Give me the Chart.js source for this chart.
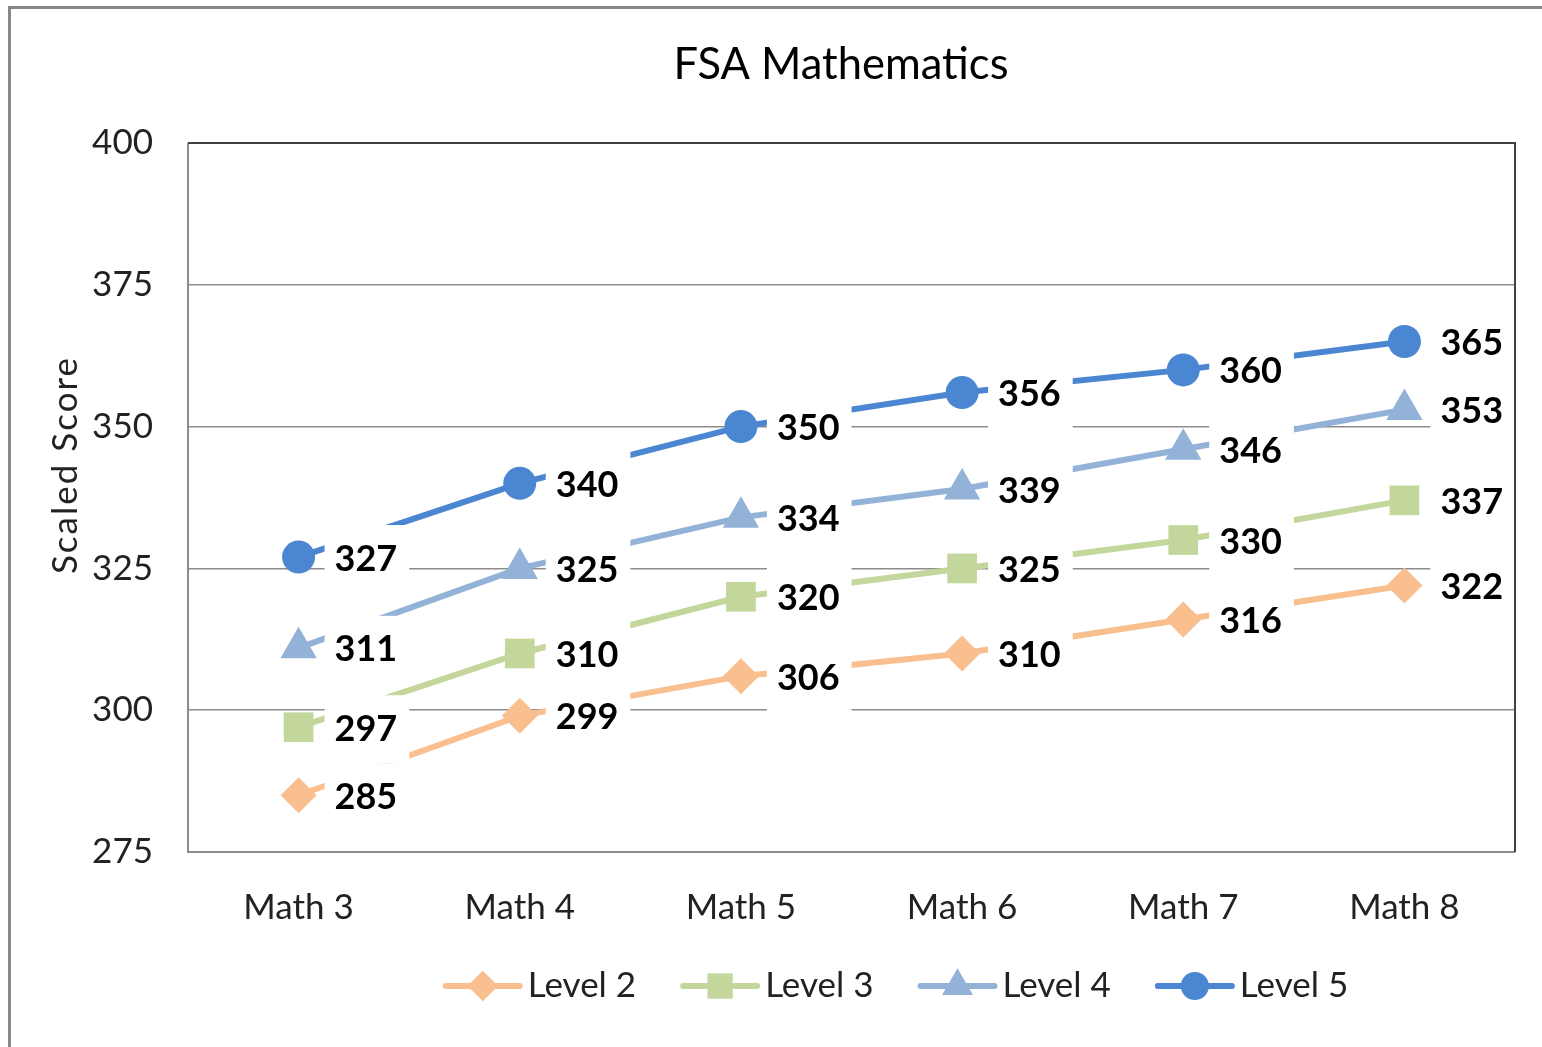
<!DOCTYPE html>
<html><head><meta charset="utf-8">
<script src="https://cdn.jsdelivr.net/npm/chart.js@4.4.1/dist/chart.umd.min.js"></script>
<style>html,body{margin:0;padding:0;background:#fff;overflow:hidden}#wrap{position:relative;width:1542px;height:1047px}</style>
</head><body><div id="wrap"><canvas id="c" width="1542" height="1047"></canvas></div>
<script>
const chartTitle = 'FSA Mathematics';
const yAxisTitle = 'Scaled Score';
const categories = ['Math 3', 'Math 4', 'Math 5', 'Math 6', 'Math 7', 'Math 8'];
const seriesNames = ['Level 2', 'Level 3', 'Level 4', 'Level 5'];
const level2 = [285, 299, 306, 310, 316, 322];
const level3 = [297, 310, 320, 325, 330, 337];
const level4 = [311, 325, 334, 339, 346, 353];
const level5 = [327, 340, 350, 356, 360, 365];
const yMin = 275, yMax = 400, yStep = 25;

const colors = ['#F9BF8F', '#C3D69B', '#93B2D7', '#4A86D1'];
const pointStyles = ['rectRot', 'rect', 'triangle', 'circle'];
const pointRadii = [18, 21, 21, 16.5];
const FONT = 'Lato, "Open Sans", sans-serif';

function drawMarker(ctx, style, x, y, r) {
  ctx.beginPath();
  if (style === 'circle') { ctx.arc(x, y, r, 0, Math.PI * 2); }
  else if (style === 'rect') { const s = r * Math.SQRT1_2; ctx.rect(x - s, y - s, 2 * s, 2 * s); }
  else if (style === 'rectRot') { ctx.moveTo(x, y - r); ctx.lineTo(x + r, y); ctx.lineTo(x, y + r); ctx.lineTo(x - r, y); ctx.closePath(); }
  else if (style === 'triangle') {
    for (let k = 0; k < 3; k++) { const a = k * 2 * Math.PI / 3; const px = x + Math.sin(a) * r, py = y - Math.cos(a) * r; k ? ctx.lineTo(px, py) : ctx.moveTo(px, py); }
    ctx.closePath();
  }
  ctx.fill();
}

const framePlugin = {
  id: 'frame',
  beforeDraw(chart) {
    const ctx = chart.ctx;
    ctx.save();
    ctx.fillStyle = '#fff';
    ctx.fillRect(0, 0, chart.width, chart.height);
    ctx.strokeStyle = '#878787';
    ctx.lineWidth = 3;
    ctx.beginPath();
    ctx.moveTo(9.5, chart.height);
    ctx.lineTo(9.5, 7.5);
    ctx.lineTo(chart.width, 7.5);
    ctx.stroke();
    // chart title
    ctx.fillStyle = '#000';
    ctx.font = '43.5px ' + FONT;
    ctx.textAlign = 'center';
    ctx.textBaseline = 'alphabetic';
    ctx.fillText(chartTitle, 841, 79);
    // y axis title (rotated)
    ctx.font = '35px ' + FONT;
    const w0 = ctx.measureText(yAxisTitle).width;
    const extra = (216 - w0) / (yAxisTitle.length - 1);
    if ('letterSpacing' in ctx && extra > 0) ctx.letterSpacing = extra.toFixed(2) + 'px';
    ctx.translate(77, 465);
    ctx.rotate(-Math.PI / 2);
    ctx.fillStyle = '#222';
    ctx.textAlign = 'center';
    ctx.fillText(yAxisTitle, 0, 0);
    ctx.restore();
  },
  afterDatasetsDraw(chart) {
    const ctx = chart.ctx;
    ctx.save();
    ctx.font = 'bold 36px ' + FONT;
    ctx.textAlign = 'left';
    ctx.textBaseline = 'middle';
    const items = [];
    chart.data.datasets.forEach((ds, i) => {
      const meta = chart.getDatasetMeta(i);
      meta.data.forEach((pt, j) => {
        const txt = String(ds.data[j]);
        const w = ctx.measureText(txt).width;
        items.push({ txt, w, x: pt.x + 36, y: pt.y + 2 });
      });
    });
    ctx.fillStyle = '#fff';
    items.forEach(it => ctx.fillRect(it.x - 10, it.y - 34, it.w + 22, 68));
    ctx.fillStyle = '#000';
    items.forEach(it => ctx.fillText(it.txt, it.x, it.y));
    const a = chart.chartArea;
    ctx.strokeStyle = '#8c8c8c';
    ctx.lineWidth = 2;
    ctx.beginPath();
    ctx.moveTo(a.left, a.top); ctx.lineTo(a.left, a.bottom); ctx.lineTo(a.right, a.bottom);
    ctx.stroke();
    ctx.strokeStyle = '#404040';
    ctx.beginPath();
    ctx.moveTo(a.left, a.top); ctx.lineTo(a.right, a.top); ctx.lineTo(a.right, a.bottom);
    ctx.stroke();
    ctx.restore();
  },
  afterDraw(chart) {
    const ctx = chart.ctx;
    ctx.save();
    ctx.font = '35px ' + FONT;
    ctx.textBaseline = 'middle';
    ctx.textAlign = 'left';
    const lineLen = 80, gapText = 5, gapItem = 44;
    const widths = chart.data.datasets.map(ds => ctx.measureText(ds.label).width);
    const total = widths.reduce((s, w) => s + lineLen + gapText + w, 0) + gapItem * (widths.length - 1);
    let x = 895.5 - total / 2;
    const y = 986;
    chart.data.datasets.forEach((ds, i) => {
      ctx.strokeStyle = ds.borderColor;
      ctx.lineWidth = 6;
      ctx.lineCap = 'round';
      ctx.beginPath(); ctx.moveTo(x + 3, y); ctx.lineTo(x + lineLen - 3, y); ctx.stroke();
      ctx.fillStyle = ds.borderColor;
      drawMarker(ctx, ds.pointStyle, x + lineLen / 2, y, ds.pointRadius * 0.85);
      ctx.fillStyle = '#222';
      ctx.fillText(ds.label, x + lineLen + gapText, y);
      x += lineLen + gapText + widths[i] + gapItem;
    });
    ctx.restore();
  }
};

function build() {
  const seriesData = [level2, level3, level4, level5];
  const datasets = seriesNames.map((name, i) => ({
    label: name,
    data: seriesData[i],
    borderColor: colors[i],
    backgroundColor: colors[i],
    borderWidth: 6,
    tension: 0,
    borderCapStyle: 'round',
    pointStyle: pointStyles[i],
    pointRadius: pointRadii[i],
    pointHoverRadius: pointRadii[i],
    pointBorderWidth: 0,
    pointBackgroundColor: colors[i]
  }));
  new Chart(document.getElementById('c'), {
    type: 'line',
    data: { labels: categories, datasets },
    options: {
      responsive: false,
      animation: false,
      devicePixelRatio: 1,
      layout: { padding: { left: 45, top: 143, right: 27, bottom: 120 } },
      plugins: { legend: { display: false }, title: { display: false }, tooltip: { enabled: false } },
      scales: {
        x: {
          type: 'category',
          offset: true,
          grid: { display: false, drawTicks: false },
          border: { display: false },
          ticks: { color: '#222', font: { family: FONT, size: 35 }, padding: 35, maxRotation: 0 },
          afterFit(s) { s.height = 75; }
        },
        y: {
          min: yMin, max: yMax,
          grid: { color: '#8c8c8c', lineWidth: 1.5, drawTicks: false },
          border: { display: false },
          ticks: { stepSize: yStep, color: '#222', font: { family: FONT, size: 35 }, padding: 35 },
          title: { display: false, text: yAxisTitle },
          afterFit(s) { s.width = 143; }
        }
      }
    },
    plugins: [framePlugin]
  });
}
if (document.fonts && document.fonts.load) {
  Promise.all([document.fonts.load('36px Lato'), document.fonts.load('bold 36px Lato')]).then(build, build);
} else build();
</script></body></html>
